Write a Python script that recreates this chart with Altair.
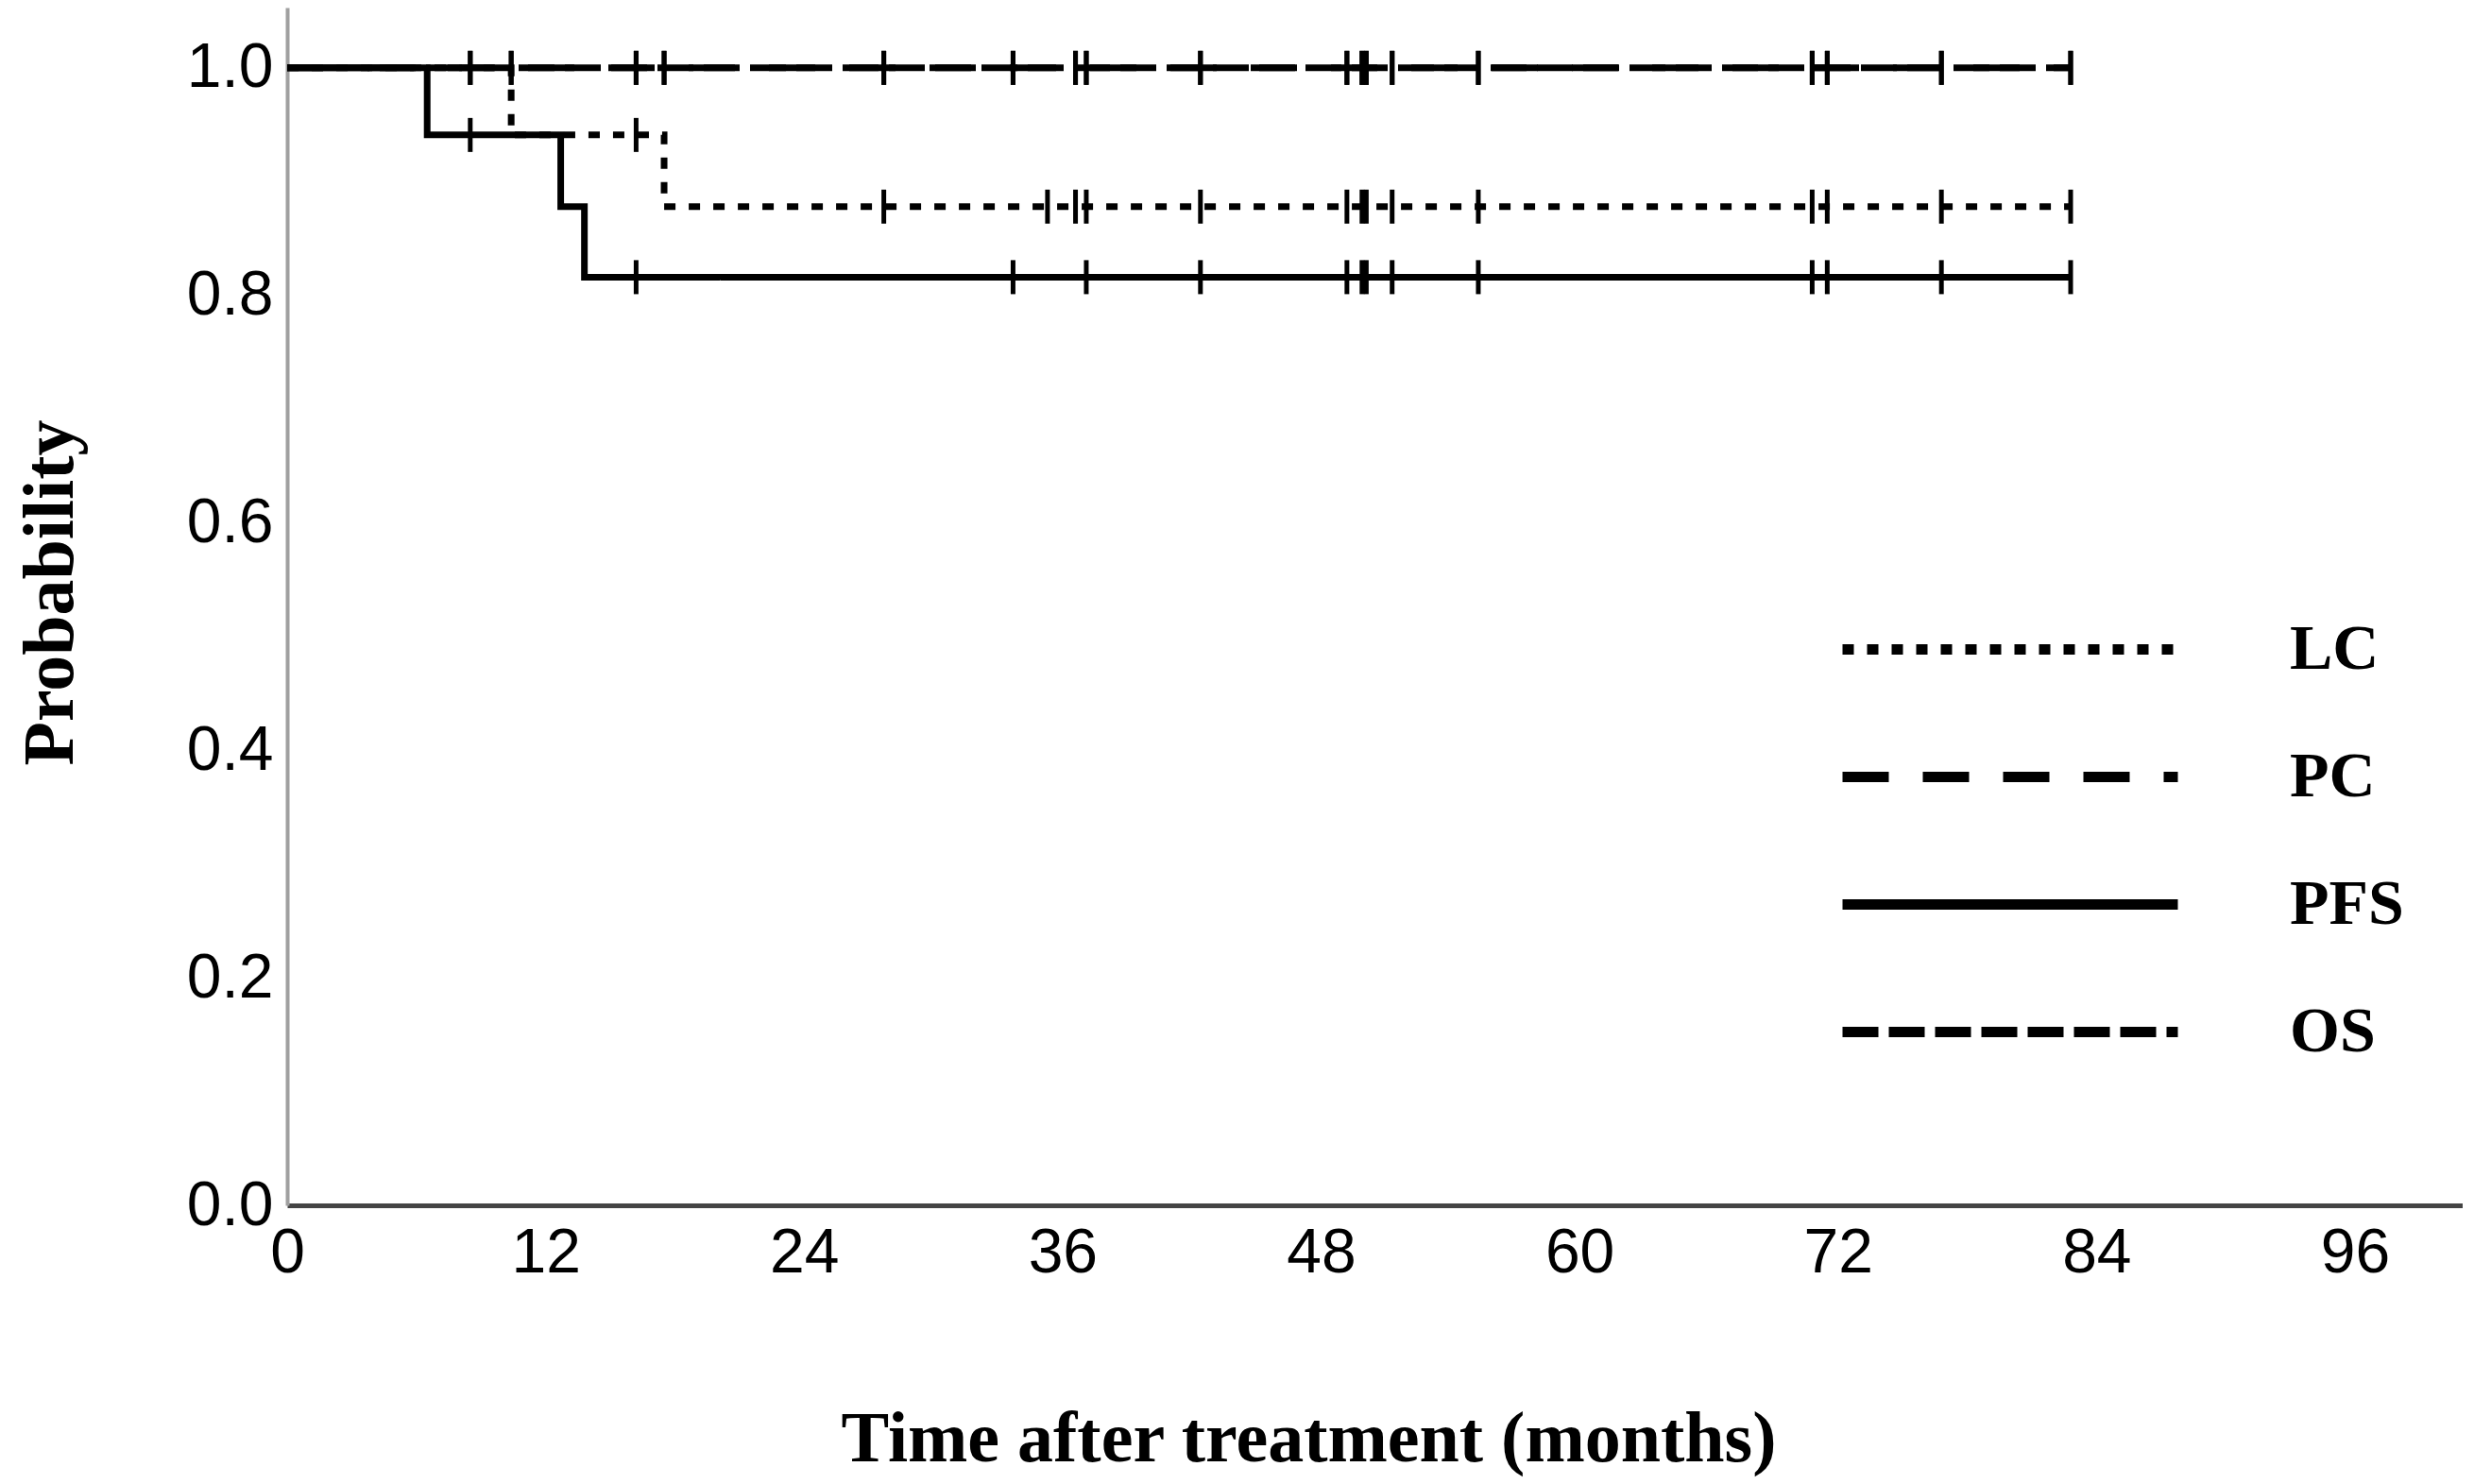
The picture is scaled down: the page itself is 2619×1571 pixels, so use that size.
import altair as alt
import pandas as pd

# ---- data ----
series_names = ["LC", "PC", "PFS", "OS"]

lc_time = [0, 10.4, 17.5, 82.8]
lc_surv = [1.0, 0.941, 0.878, 0.878]

pc_time = [0, 82.8]
pc_surv = [1.0, 1.0]

pfs_time = [0, 6.5, 12.7, 13.8, 82.8]
pfs_surv = [1.0, 0.941, 0.878, 0.816, 0.816]

os_time = [0, 82.8]
os_surv = [1.0, 1.0]

lc_censor = [16.2, 27.7, 35.3, 36.6, 37.1, 42.4, 49.2, 49.9, 50.1, 51.3,
             55.3, 70.8, 71.5, 76.8, 82.8]
pc_censor = [8.5, 10.4, 16.2, 17.5, 27.7, 33.7, 36.6, 37.1, 42.4, 49.2,
             49.9, 50.1, 51.3, 55.3, 70.8, 71.5, 76.8, 82.8]
pfs_censor = [8.5, 16.2, 33.7, 37.1, 42.4, 49.2, 49.9, 50.1, 51.3, 55.3,
              70.8, 71.5, 76.8, 82.8]
os_censor = [8.5, 10.4, 16.2, 17.5, 27.7, 33.7, 36.6, 37.1, 42.4, 49.2,
             49.9, 50.1, 51.3, 55.3, 70.8, 71.5, 76.8, 82.8]

x_ticks = [0, 12, 24, 36, 48, 60, 72, 84, 96]
y_ticks = [0.0, 0.2, 0.4, 0.6, 0.8, 1.0]

dash_range = [[12, 14], [49, 36], [1, 0], [38, 11]]

# ---- build tables ----
curves = {
    "LC": (lc_time, lc_surv, lc_censor),
    "PC": (pc_time, pc_surv, pc_censor),
    "PFS": (pfs_time, pfs_surv, pfs_censor),
    "OS": (os_time, os_surv, os_censor),
}


def step_value(times, survs, t):
    v = survs[0]
    for ti, si in zip(times, survs):
        if ti <= t:
            v = si
    return v


line_rows = []
tick_rows = []
for name in series_names:
    times, survs, cens = curves[name]
    for t, s in zip(times, survs):
        line_rows.append({"series": name, "time": t, "surv": s})
    for c in cens:
        tick_rows.append({"series": name, "time": c, "surv": step_value(times, survs, c)})

line_df = pd.DataFrame(line_rows)
tick_df = pd.DataFrame(tick_rows)

x_scale = alt.Scale(domain=[0, 101], nice=False, zero=False)
y_scale = alt.Scale(domain=[0, 1.053], nice=False)

x_axis = alt.Axis(
    values=x_ticks, title="Time after treatment (months)", labelAngle=0,
    domainColor="#444444", domainWidth=5, ticks=False, grid=False,
    labelFont="Liberation Sans", labelFontSize=66, labelColor="black",
    labelPadding=18, labelFlush=False, labelOverlap=False, labelBound=False,
    titleFont="Liberation Serif", titleFontWeight="bold", titleFontSize=76,
    titleColor="black", titleX=1081, titleY=247, titleAlign="center",
    titleBaseline="middle",
)
y_axis = alt.Axis(
    values=y_ticks, format=".1f", title="Probability",
    domainColor="#a0a0a0", domainWidth=4, ticks=False, grid=False,
    labelFont="Liberation Sans", labelFontSize=66, labelColor="black",
    labelPadding=15, labelBaseline="middle", labelOverlap=False, labelBound=False,
    labelFlush=False,
    titleFont="Liberation Serif", titleFontWeight="bold", titleFontSize=76,
    titleColor="black", titleAngle=270, titleX=-251, titleY=619,
    titleAlign="center", titleBaseline="middle",
)

legend = alt.Legend(
    title=None, orient="none", legendX=1641, legendY=612,
    symbolType="stroke", symbolSize=126025, symbolStrokeWidth=11,
    symbolStrokeColor="black", symbolOpacity=1,
    labelFont="Liberation Serif", labelFontWeight="bold", labelFontSize=68,
    labelColor="black", labelOffset=113, clipHeight=135, rowPadding=0,
    padding=0, labelLimit=0,
)

lines = alt.Chart(line_df).mark_line(
    interpolate="step-after", strokeWidth=7, color="black"
).encode(
    x=alt.X("time:Q", scale=x_scale, axis=x_axis),
    y=alt.Y("surv:Q", scale=y_scale, axis=y_axis),
    strokeDash=alt.StrokeDash(
        "series:N", scale=alt.Scale(domain=series_names, range=dash_range),
        legend=legend, sort=series_names,
    ),
)

ticks = alt.Chart(tick_df).mark_tick(
    orient="vertical", size=36, thickness=5, color="black", opacity=1
).encode(
    x=alt.X("time:Q", scale=x_scale),
    y=alt.Y("surv:Q", scale=y_scale),
)

chart = alt.layer(lines, ticks).properties(
    width=2303, height=1268,
    autosize=alt.AutoSizeParams(type="none"),
    padding={"left": 296, "top": 0, "right": 0, "bottom": 295},
    background="white",
).configure_view(stroke=None)

chart.save("out.html", embed_options={"renderer": "svg", "actions": False})
